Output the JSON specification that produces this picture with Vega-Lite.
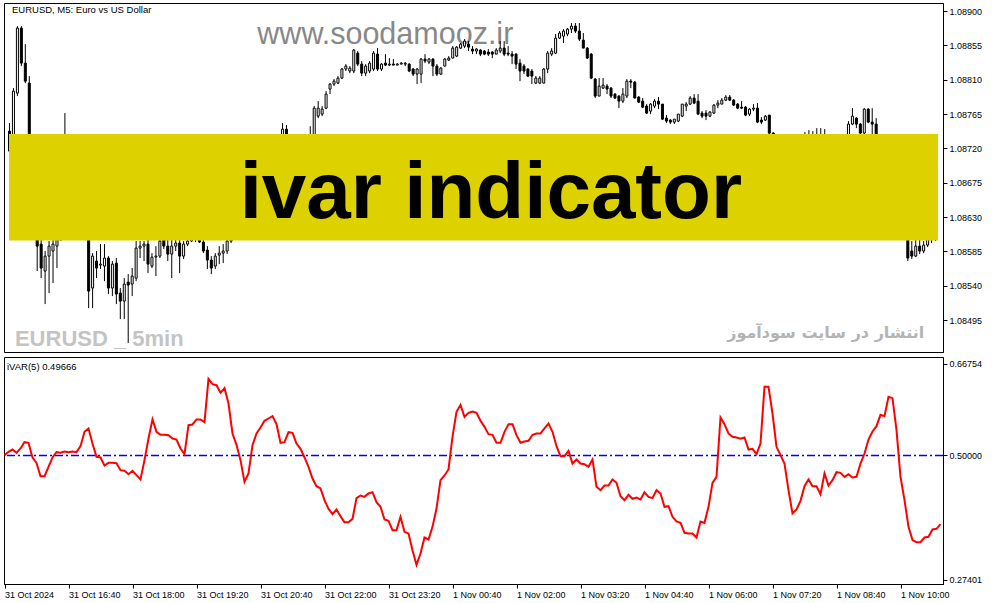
{
"$schema":"https://vega.github.io/schema/vega-lite/v6.json",
"background":"white",
"padding":{"left":2,"top":2,"right":0,"bottom":0},
"spacing":3,
"config":{"view":{"stroke":"#000000","strokeWidth":1},"axis":{"labelFont":"Liberation Sans","labelFontSize":9,"labelColor":"#000000","domainColor":"#000000","tickColor":"#000000","tickSize":4,"labelPadding":2,"grid":false,"labelFlush":false,"labelOverlap":false}},
"datasets":{
"candles":[
{"i":0,"o":1.087426,"h":1.087531,"l":1.086967,"c":1.087164},
{"i":1,"o":1.087164,"h":1.087990,"l":1.087033,"c":1.087950},
{"i":2,"o":1.087924,"h":1.088802,"l":1.087885,"c":1.088776},
{"i":3,"o":1.088776,"h":1.088802,"l":1.088278,"c":1.088317},
{"i":4,"o":1.088317,"h":1.088566,"l":1.088055,"c":1.088081},
{"i":5,"o":1.088055,"h":1.088147,"l":1.086639,"c":1.086770},
{"i":6,"o":1.086770,"h":1.086902,"l":1.086181,"c":1.086312},
{"i":7,"o":1.086312,"h":1.086509,"l":1.085592,"c":1.085919},
{"i":8,"o":1.085945,"h":1.086011,"l":1.085500,"c":1.085631},
{"i":9,"o":1.085592,"h":1.085854,"l":1.085159,"c":1.085788},
{"i":10,"o":1.085788,"h":1.085985,"l":1.085303,"c":1.085919},
{"i":11,"o":1.085854,"h":1.086011,"l":1.085434,"c":1.085945},
{"i":12,"o":1.085919,"h":1.086181,"l":1.085631,"c":1.086011},
{"i":13,"o":1.086011,"h":1.086378,"l":1.085985,"c":1.086247},
{"i":14,"o":1.086247,"h":1.087662,"l":1.086181,"c":1.086509},
{"i":15,"o":1.086509,"h":1.086639,"l":1.086181,"c":1.086312},
{"i":16,"o":1.086312,"h":1.086444,"l":1.086050,"c":1.086181},
{"i":17,"o":1.086181,"h":1.086444,"l":1.086011,"c":1.086312},
{"i":18,"o":1.086312,"h":1.086378,"l":1.086011,"c":1.086116},
{"i":19,"o":1.086116,"h":1.086247,"l":1.085998,"c":1.086181},
{"i":20,"o":1.086221,"h":1.086312,"l":1.085106,"c":1.085329},
{"i":21,"o":1.085369,"h":1.085827,"l":1.085106,"c":1.085788},
{"i":22,"o":1.085723,"h":1.085854,"l":1.085500,"c":1.085631},
{"i":23,"o":1.085670,"h":1.085945,"l":1.085618,"c":1.085683},
{"i":24,"o":1.085657,"h":1.085945,"l":1.085460,"c":1.085762},
{"i":25,"o":1.085762,"h":1.085788,"l":1.085290,"c":1.085369},
{"i":26,"o":1.085369,"h":1.085723,"l":1.085264,"c":1.085683},
{"i":27,"o":1.085696,"h":1.085762,"l":1.085159,"c":1.085290},
{"i":28,"o":1.085303,"h":1.085369,"l":1.084962,"c":1.085198},
{"i":29,"o":1.085198,"h":1.085500,"l":1.084962,"c":1.085421},
{"i":30,"o":1.085447,"h":1.085552,"l":1.084648,"c":1.085408},
{"i":31,"o":1.085421,"h":1.085631,"l":1.085264,"c":1.085526},
{"i":32,"o":1.085500,"h":1.085985,"l":1.085460,"c":1.085893},
{"i":33,"o":1.085893,"h":1.085985,"l":1.085762,"c":1.085919},
{"i":34,"o":1.085919,"h":1.085985,"l":1.085723,"c":1.085945},
{"i":35,"o":1.085945,"h":1.086011,"l":1.085565,"c":1.085683},
{"i":36,"o":1.085657,"h":1.085827,"l":1.085631,"c":1.085775},
{"i":37,"o":1.085775,"h":1.085919,"l":1.085526,"c":1.085788},
{"i":38,"o":1.085788,"h":1.086050,"l":1.085762,"c":1.085985},
{"i":39,"o":1.086011,"h":1.086116,"l":1.085880,"c":1.085919},
{"i":40,"o":1.085919,"h":1.086011,"l":1.085723,"c":1.085814},
{"i":41,"o":1.085814,"h":1.086011,"l":1.085500,"c":1.085919},
{"i":42,"o":1.085919,"h":1.086037,"l":1.085854,"c":1.085959},
{"i":43,"o":1.085959,"h":1.086011,"l":1.085565,"c":1.085788},
{"i":44,"o":1.085788,"h":1.085985,"l":1.085749,"c":1.085945},
{"i":45,"o":1.085945,"h":1.086090,"l":1.085919,"c":1.085985},
{"i":46,"o":1.085985,"h":1.086181,"l":1.085972,"c":1.086037},
{"i":47,"o":1.086037,"h":1.086142,"l":1.085972,"c":1.086011},
{"i":48,"o":1.086037,"h":1.086116,"l":1.085959,"c":1.085972},
{"i":49,"o":1.085972,"h":1.086011,"l":1.085827,"c":1.085854},
{"i":50,"o":1.085867,"h":1.085919,"l":1.085618,"c":1.085736},
{"i":51,"o":1.085736,"h":1.085788,"l":1.085552,"c":1.085631},
{"i":52,"o":1.085657,"h":1.085827,"l":1.085618,"c":1.085788},
{"i":53,"o":1.085801,"h":1.085919,"l":1.085683,"c":1.085827},
{"i":54,"o":1.085827,"h":1.085945,"l":1.085696,"c":1.085854},
{"i":55,"o":1.085854,"h":1.086090,"l":1.085814,"c":1.085985},
{"i":56,"o":1.085985,"h":1.086247,"l":1.085959,"c":1.086181},
{"i":57,"o":1.086181,"h":1.086378,"l":1.086116,"c":1.086312},
{"i":58,"o":1.086312,"h":1.086444,"l":1.086181,"c":1.086273},
{"i":59,"o":1.086273,"h":1.086574,"l":1.086221,"c":1.086509},
{"i":60,"o":1.086509,"h":1.086770,"l":1.086444,"c":1.086639},
{"i":61,"o":1.086639,"h":1.086744,"l":1.086509,"c":1.086574},
{"i":62,"o":1.086574,"h":1.086836,"l":1.086535,"c":1.086770},
{"i":63,"o":1.086770,"h":1.086967,"l":1.086705,"c":1.086902},
{"i":64,"o":1.086902,"h":1.087033,"l":1.086770,"c":1.086836},
{"i":65,"o":1.086836,"h":1.087098,"l":1.086797,"c":1.087033},
{"i":66,"o":1.087033,"h":1.087229,"l":1.086967,"c":1.087164},
{"i":67,"o":1.087164,"h":1.087269,"l":1.087059,"c":1.087098},
{"i":68,"o":1.087098,"h":1.087360,"l":1.087033,"c":1.087295},
{"i":69,"o":1.087295,"h":1.087531,"l":1.087164,"c":1.087452},
{"i":70,"o":1.087452,"h":1.087504,"l":1.087295,"c":1.087360},
{"i":71,"o":1.087360,"h":1.087387,"l":1.087164,"c":1.087229},
{"i":72,"o":1.087229,"h":1.087347,"l":1.087164,"c":1.087269},
{"i":73,"o":1.087269,"h":1.087360,"l":1.087190,"c":1.087295},
{"i":74,"o":1.087295,"h":1.087347,"l":1.087164,"c":1.087229},
{"i":75,"o":1.087229,"h":1.087387,"l":1.087164,"c":1.087321},
{"i":76,"o":1.087321,"h":1.087491,"l":1.087269,"c":1.087360},
{"i":77,"o":1.087360,"h":1.087754,"l":1.087321,"c":1.087727},
{"i":78,"o":1.087622,"h":1.087819,"l":1.087596,"c":1.087727},
{"i":79,"o":1.087649,"h":1.087754,"l":1.087622,"c":1.087714},
{"i":80,"o":1.087727,"h":1.087950,"l":1.087714,"c":1.087911},
{"i":81,"o":1.087977,"h":1.088055,"l":1.087911,"c":1.088042},
{"i":82,"o":1.088042,"h":1.088108,"l":1.088016,"c":1.088081},
{"i":83,"o":1.088055,"h":1.088147,"l":1.088042,"c":1.088121},
{"i":84,"o":1.088121,"h":1.088252,"l":1.088108,"c":1.088239},
{"i":85,"o":1.088239,"h":1.088304,"l":1.088213,"c":1.088278},
{"i":86,"o":1.088213,"h":1.088278,"l":1.088186,"c":1.088252},
{"i":87,"o":1.088213,"h":1.088501,"l":1.088186,"c":1.088488},
{"i":88,"o":1.088448,"h":1.088475,"l":1.088278,"c":1.088304},
{"i":89,"o":1.088304,"h":1.088344,"l":1.088147,"c":1.088186},
{"i":90,"o":1.088186,"h":1.088304,"l":1.088147,"c":1.088278},
{"i":91,"o":1.088213,"h":1.088344,"l":1.088186,"c":1.088317},
{"i":92,"o":1.088239,"h":1.088475,"l":1.088213,"c":1.088448},
{"i":93,"o":1.088435,"h":1.088514,"l":1.088213,"c":1.088239},
{"i":94,"o":1.088239,"h":1.088317,"l":1.088213,"c":1.088304},
{"i":95,"o":1.088317,"h":1.088435,"l":1.088278,"c":1.088291},
{"i":96,"o":1.088291,"h":1.088383,"l":1.088278,"c":1.088304},
{"i":97,"o":1.088304,"h":1.088370,"l":1.088291,"c":1.088291},
{"i":98,"o":1.088291,"h":1.088317,"l":1.088291,"c":1.088304},
{"i":99,"o":1.088304,"h":1.088331,"l":1.088304,"c":1.088317},
{"i":100,"o":1.088304,"h":1.088331,"l":1.088278,"c":1.088317},
{"i":101,"o":1.088304,"h":1.088317,"l":1.088199,"c":1.088213},
{"i":102,"o":1.088239,"h":1.088252,"l":1.088147,"c":1.088173},
{"i":103,"o":1.088173,"h":1.088252,"l":1.088042,"c":1.088239},
{"i":104,"o":1.088173,"h":1.088383,"l":1.088055,"c":1.088370},
{"i":105,"o":1.088370,"h":1.088435,"l":1.088317,"c":1.088344},
{"i":106,"o":1.088331,"h":1.088383,"l":1.088304,"c":1.088370},
{"i":107,"o":1.088370,"h":1.088383,"l":1.088147,"c":1.088278},
{"i":108,"o":1.088278,"h":1.088304,"l":1.088147,"c":1.088173},
{"i":109,"o":1.088173,"h":1.088265,"l":1.088160,"c":1.088252},
{"i":110,"o":1.088278,"h":1.088383,"l":1.088278,"c":1.088370},
{"i":111,"o":1.088357,"h":1.088409,"l":1.088344,"c":1.088383},
{"i":112,"o":1.088383,"h":1.088540,"l":1.088383,"c":1.088514},
{"i":113,"o":1.088409,"h":1.088540,"l":1.088396,"c":1.088527},
{"i":114,"o":1.088514,"h":1.088580,"l":1.088501,"c":1.088566},
{"i":115,"o":1.088540,"h":1.088632,"l":1.088514,"c":1.088606},
{"i":116,"o":1.088566,"h":1.088606,"l":1.088475,"c":1.088527},
{"i":117,"o":1.088501,"h":1.088540,"l":1.088435,"c":1.088475},
{"i":118,"o":1.088475,"h":1.088514,"l":1.088435,"c":1.088501},
{"i":119,"o":1.088488,"h":1.088501,"l":1.088409,"c":1.088435},
{"i":120,"o":1.088475,"h":1.088488,"l":1.088422,"c":1.088435},
{"i":121,"o":1.088462,"h":1.088501,"l":1.088409,"c":1.088435},
{"i":122,"o":1.088462,"h":1.088475,"l":1.088383,"c":1.088435},
{"i":123,"o":1.088435,"h":1.088514,"l":1.088435,"c":1.088488},
{"i":124,"o":1.088475,"h":1.088606,"l":1.088448,"c":1.088514},
{"i":125,"o":1.088514,"h":1.088606,"l":1.088409,"c":1.088435},
{"i":126,"o":1.088448,"h":1.088540,"l":1.088409,"c":1.088435},
{"i":127,"o":1.088435,"h":1.088475,"l":1.088304,"c":1.088409},
{"i":128,"o":1.088435,"h":1.088448,"l":1.088239,"c":1.088304},
{"i":129,"o":1.088317,"h":1.088370,"l":1.088081,"c":1.088213},
{"i":130,"o":1.088278,"h":1.088304,"l":1.088173,"c":1.088213},
{"i":131,"o":1.088239,"h":1.088252,"l":1.088134,"c":1.088147},
{"i":132,"o":1.088213,"h":1.088239,"l":1.088042,"c":1.088147},
{"i":133,"o":1.088055,"h":1.088147,"l":1.088042,"c":1.088121},
{"i":134,"o":1.088055,"h":1.088147,"l":1.088042,"c":1.088121},
{"i":135,"o":1.088055,"h":1.088252,"l":1.088055,"c":1.088239},
{"i":136,"o":1.088239,"h":1.088475,"l":1.088186,"c":1.088448},
{"i":137,"o":1.088435,"h":1.088514,"l":1.088409,"c":1.088475},
{"i":138,"o":1.088448,"h":1.088698,"l":1.088435,"c":1.088645},
{"i":139,"o":1.088645,"h":1.088737,"l":1.088632,"c":1.088711},
{"i":140,"o":1.088671,"h":1.088763,"l":1.088580,"c":1.088737},
{"i":141,"o":1.088698,"h":1.088776,"l":1.088671,"c":1.088763},
{"i":142,"o":1.088763,"h":1.088842,"l":1.088711,"c":1.088802},
{"i":143,"o":1.088802,"h":1.088842,"l":1.088711,"c":1.088737},
{"i":144,"o":1.088737,"h":1.088842,"l":1.088606,"c":1.088632},
{"i":145,"o":1.088619,"h":1.088711,"l":1.088514,"c":1.088514},
{"i":146,"o":1.088514,"h":1.088527,"l":1.088370,"c":1.088383},
{"i":147,"o":1.088435,"h":1.088448,"l":1.088108,"c":1.088121},
{"i":148,"o":1.088108,"h":1.088121,"l":1.087859,"c":1.087885},
{"i":149,"o":1.087885,"h":1.088121,"l":1.087885,"c":1.088016},
{"i":150,"o":1.087990,"h":1.088121,"l":1.087977,"c":1.088029},
{"i":151,"o":1.088016,"h":1.088042,"l":1.087911,"c":1.087977},
{"i":152,"o":1.087990,"h":1.088003,"l":1.087859,"c":1.087885},
{"i":153,"o":1.087911,"h":1.087924,"l":1.087846,"c":1.087859},
{"i":154,"o":1.087885,"h":1.087898,"l":1.087727,"c":1.087819},
{"i":155,"o":1.087819,"h":1.087990,"l":1.087793,"c":1.087911},
{"i":156,"o":1.087885,"h":1.088108,"l":1.087859,"c":1.088081},
{"i":157,"o":1.088081,"h":1.088108,"l":1.087990,"c":1.088068},
{"i":158,"o":1.088068,"h":1.088081,"l":1.087859,"c":1.087859},
{"i":159,"o":1.087872,"h":1.087885,"l":1.087793,"c":1.087806},
{"i":160,"o":1.087819,"h":1.087859,"l":1.087727,"c":1.087740},
{"i":161,"o":1.087754,"h":1.087780,"l":1.087649,"c":1.087662},
{"i":162,"o":1.087688,"h":1.087793,"l":1.087649,"c":1.087780},
{"i":163,"o":1.087754,"h":1.087846,"l":1.087727,"c":1.087819},
{"i":164,"o":1.087819,"h":1.087872,"l":1.087714,"c":1.087780},
{"i":165,"o":1.087780,"h":1.087780,"l":1.087570,"c":1.087583},
{"i":166,"o":1.087596,"h":1.087636,"l":1.087531,"c":1.087557},
{"i":167,"o":1.087570,"h":1.087583,"l":1.087518,"c":1.087544},
{"i":168,"o":1.087544,"h":1.087583,"l":1.087518,"c":1.087583},
{"i":169,"o":1.087557,"h":1.087649,"l":1.087544,"c":1.087649},
{"i":170,"o":1.087622,"h":1.087780,"l":1.087609,"c":1.087780},
{"i":171,"o":1.087754,"h":1.087806,"l":1.087688,"c":1.087780},
{"i":172,"o":1.087780,"h":1.087885,"l":1.087767,"c":1.087859},
{"i":173,"o":1.087859,"h":1.087911,"l":1.087780,"c":1.087793},
{"i":174,"o":1.087819,"h":1.087911,"l":1.087636,"c":1.087649},
{"i":175,"o":1.087662,"h":1.087688,"l":1.087596,"c":1.087622},
{"i":176,"o":1.087662,"h":1.087701,"l":1.087570,"c":1.087622},
{"i":177,"o":1.087622,"h":1.087688,"l":1.087609,"c":1.087675},
{"i":178,"o":1.087662,"h":1.087780,"l":1.087649,"c":1.087767},
{"i":179,"o":1.087767,"h":1.087832,"l":1.087727,"c":1.087793},
{"i":180,"o":1.087780,"h":1.087859,"l":1.087780,"c":1.087832},
{"i":181,"o":1.087832,"h":1.087898,"l":1.087819,"c":1.087872},
{"i":182,"o":1.087872,"h":1.087898,"l":1.087819,"c":1.087832},
{"i":183,"o":1.087832,"h":1.087846,"l":1.087754,"c":1.087767},
{"i":184,"o":1.087780,"h":1.087793,"l":1.087714,"c":1.087727},
{"i":185,"o":1.087740,"h":1.087819,"l":1.087714,"c":1.087727},
{"i":186,"o":1.087740,"h":1.087754,"l":1.087622,"c":1.087636},
{"i":187,"o":1.087649,"h":1.087727,"l":1.087622,"c":1.087714},
{"i":188,"o":1.087714,"h":1.087780,"l":1.087688,"c":1.087727},
{"i":189,"o":1.087727,"h":1.087793,"l":1.087531,"c":1.087544},
{"i":190,"o":1.087570,"h":1.087609,"l":1.087518,"c":1.087544},
{"i":191,"o":1.087570,"h":1.087636,"l":1.087557,"c":1.087622},
{"i":192,"o":1.087636,"h":1.087636,"l":1.087360,"c":1.087400},
{"i":193,"o":1.087400,"h":1.087413,"l":1.087164,"c":1.087295},
{"i":194,"o":1.087295,"h":1.087347,"l":1.087033,"c":1.087098},
{"i":195,"o":1.087098,"h":1.087295,"l":1.087006,"c":1.087164},
{"i":196,"o":1.087164,"h":1.087229,"l":1.086928,"c":1.087033},
{"i":197,"o":1.087033,"h":1.087216,"l":1.086967,"c":1.087137},
{"i":198,"o":1.087137,"h":1.087269,"l":1.087059,"c":1.087190},
{"i":199,"o":1.087190,"h":1.087295,"l":1.087033,"c":1.087098},
{"i":200,"o":1.087098,"h":1.087321,"l":1.087059,"c":1.087229},
{"i":201,"o":1.087229,"h":1.087413,"l":1.087137,"c":1.087203},
{"i":202,"o":1.087203,"h":1.087439,"l":1.087164,"c":1.087269},
{"i":203,"o":1.087269,"h":1.087426,"l":1.087164,"c":1.087229},
{"i":204,"o":1.087229,"h":1.087465,"l":1.087190,"c":1.087295},
{"i":205,"o":1.087295,"h":1.087465,"l":1.087190,"c":1.087255},
{"i":206,"o":1.087255,"h":1.087452,"l":1.087203,"c":1.087295},
{"i":207,"o":1.087295,"h":1.087360,"l":1.087137,"c":1.087190},
{"i":208,"o":1.087190,"h":1.087321,"l":1.087098,"c":1.087229},
{"i":209,"o":1.087229,"h":1.087295,"l":1.087098,"c":1.087164},
{"i":210,"o":1.087164,"h":1.087334,"l":1.087137,"c":1.087255},
{"i":211,"o":1.087255,"h":1.087360,"l":1.087216,"c":1.087321},
{"i":212,"o":1.087321,"h":1.087557,"l":1.087295,"c":1.087518},
{"i":213,"o":1.087518,"h":1.087727,"l":1.087504,"c":1.087622},
{"i":214,"o":1.087596,"h":1.087609,"l":1.087465,"c":1.087518},
{"i":215,"o":1.087518,"h":1.087531,"l":1.087387,"c":1.087400},
{"i":216,"o":1.087400,"h":1.087727,"l":1.087387,"c":1.087714},
{"i":217,"o":1.087714,"h":1.087727,"l":1.087531,"c":1.087544},
{"i":218,"o":1.087544,"h":1.087727,"l":1.087360,"c":1.087518},
{"i":219,"o":1.087518,"h":1.087596,"l":1.087229,"c":1.087295},
{"i":220,"o":1.087295,"h":1.087360,"l":1.087098,"c":1.087164},
{"i":221,"o":1.087164,"h":1.087229,"l":1.086967,"c":1.087033},
{"i":222,"o":1.087033,"h":1.087098,"l":1.086770,"c":1.086836},
{"i":223,"o":1.086836,"h":1.086902,"l":1.086574,"c":1.086639},
{"i":224,"o":1.086639,"h":1.086705,"l":1.086378,"c":1.086444},
{"i":225,"o":1.086444,"h":1.086509,"l":1.086221,"c":1.086312},
{"i":226,"o":1.086312,"h":1.086378,"l":1.086050,"c":1.086142},
{"i":227,"o":1.086142,"h":1.086181,"l":1.085723,"c":1.085762},
{"i":228,"o":1.085854,"h":1.085985,"l":1.085749,"c":1.085788},
{"i":229,"o":1.085788,"h":1.086011,"l":1.085775,"c":1.085919},
{"i":230,"o":1.085919,"h":1.086011,"l":1.085814,"c":1.085854},
{"i":231,"o":1.085854,"h":1.085985,"l":1.085827,"c":1.085932},
{"i":232,"o":1.085932,"h":1.086050,"l":1.085906,"c":1.086011},
{"i":233,"o":1.086011,"h":1.086142,"l":1.085959,"c":1.086090},
{"i":234,"o":1.086090,"h":1.086142,"l":1.085985,"c":1.086050}
],
"ivar":[
{"i":0,"v":0.5006},{"i":1,"v":0.5067},{"i":2,"v":0.5109},{"i":3,"v":0.5049},{"i":4,"v":0.5128},{"i":5,"v":0.5243},{"i":6,"v":0.5231},{"i":7,"v":0.4964},{"i":8,"v":0.4866},{"i":9,"v":0.4623},
{"i":10,"v":0.4623},{"i":11,"v":0.4794},{"i":12,"v":0.4964},{"i":13,"v":0.5061},{"i":14,"v":0.5049},{"i":15,"v":0.5073},{"i":16,"v":0.5061},{"i":17,"v":0.5073},{"i":18,"v":0.5061},{"i":19,"v":0.5170},
{"i":20,"v":0.5431},{"i":21,"v":0.5492},{"i":22,"v":0.5219},{"i":23,"v":0.4976},{"i":24,"v":0.4964},{"i":25,"v":0.4818},{"i":26,"v":0.4866},{"i":27,"v":0.4866},{"i":28,"v":0.4860},{"i":29,"v":0.4733},
{"i":30,"v":0.4721},{"i":31,"v":0.4660},{"i":32,"v":0.4721},{"i":33,"v":0.4642},{"i":34,"v":0.4563},{"i":35,"v":0.4915},{"i":36,"v":0.5310},{"i":37,"v":0.5656},{"i":38,"v":0.5431},{"i":39,"v":0.5377},
{"i":40,"v":0.5377},{"i":41,"v":0.5370},{"i":42,"v":0.5310},{"i":43,"v":0.5291},{"i":44,"v":0.5128},{"i":45,"v":0.5024},{"i":46,"v":0.5553},{"i":47,"v":0.5565},{"i":48,"v":0.5656},{"i":49,"v":0.5656},
{"i":50,"v":0.5607},{"i":51,"v":0.6397},{"i":52,"v":0.6300},{"i":53,"v":0.6281},{"i":54,"v":0.6142},{"i":55,"v":0.6227},{"i":56,"v":0.5947},{"i":57,"v":0.5401},{"i":58,"v":0.5194},{"i":59,"v":0.4915},
{"i":60,"v":0.4520},{"i":61,"v":0.4672},{"i":62,"v":0.5188},{"i":63,"v":0.5401},{"i":64,"v":0.5510},{"i":65,"v":0.5632},{"i":66,"v":0.5674},{"i":67,"v":0.5717},{"i":68,"v":0.5571},{"i":69,"v":0.5231},
{"i":70,"v":0.5243},{"i":71,"v":0.5425},{"i":72,"v":0.5413},{"i":73,"v":0.5219},{"i":74,"v":0.5121},{"i":75,"v":0.4964},{"i":76,"v":0.4794},{"i":77,"v":0.4581},{"i":78,"v":0.4441},{"i":79,"v":0.4399},
{"i":80,"v":0.4186},{"i":81,"v":0.4028},{"i":82,"v":0.3931},{"i":83,"v":0.4016},{"i":84,"v":0.3895},{"i":85,"v":0.3785},{"i":86,"v":0.3785},{"i":87,"v":0.3846},{"i":88,"v":0.4223},{"i":89,"v":0.4271},
{"i":90,"v":0.4247},{"i":91,"v":0.4308},{"i":92,"v":0.4332},{"i":93,"v":0.4150},{"i":94,"v":0.4065},{"i":95,"v":0.3834},{"i":96,"v":0.3810},{"i":97,"v":0.3640},{"i":98,"v":0.3640},{"i":99,"v":0.3883},
{"i":100,"v":0.3609},{"i":101,"v":0.3579},{"i":102,"v":0.3275},{"i":103,"v":0.3008},{"i":104,"v":0.3215},{"i":105,"v":0.3506},{"i":106,"v":0.3470},{"i":107,"v":0.3700},{"i":108,"v":0.4034},{"i":109,"v":0.4551},
{"i":110,"v":0.4636},{"i":111,"v":0.4745},{"i":112,"v":0.5340},{"i":113,"v":0.5796},{"i":114,"v":0.5923},{"i":115,"v":0.5704},{"i":116,"v":0.5777},{"i":117,"v":0.5802},{"i":118,"v":0.5777},{"i":119,"v":0.5632},
{"i":120,"v":0.5522},{"i":121,"v":0.5389},{"i":122,"v":0.5377},{"i":123,"v":0.5231},{"i":124,"v":0.5231},{"i":125,"v":0.5431},{"i":126,"v":0.5571},{"i":127,"v":0.5571},{"i":128,"v":0.5370},{"i":129,"v":0.5231},
{"i":130,"v":0.5255},{"i":131,"v":0.5267},{"i":132,"v":0.5377},{"i":133,"v":0.5401},{"i":134,"v":0.5401},{"i":135,"v":0.5492},{"i":136,"v":0.5583},{"i":137,"v":0.5431},{"i":138,"v":0.5170},{"i":139,"v":0.4988},
{"i":140,"v":0.4988},{"i":141,"v":0.5085},{"i":142,"v":0.4854},{"i":143,"v":0.4927},{"i":144,"v":0.4854},{"i":145,"v":0.4842},{"i":146,"v":0.4794},{"i":147,"v":0.4927},{"i":148,"v":0.4429},{"i":149,"v":0.4368},
{"i":150,"v":0.4453},{"i":151,"v":0.4453},{"i":152,"v":0.4563},{"i":153,"v":0.4502},{"i":154,"v":0.4259},{"i":155,"v":0.4186},{"i":156,"v":0.4283},{"i":157,"v":0.4211},{"i":158,"v":0.4235},{"i":159,"v":0.4198},
{"i":160,"v":0.4332},{"i":161,"v":0.4247},{"i":162,"v":0.4223},{"i":163,"v":0.4368},{"i":164,"v":0.4308},{"i":165,"v":0.4065},{"i":166,"v":0.4077},{"i":167,"v":0.3883},{"i":168,"v":0.3798},{"i":169,"v":0.3773},
{"i":170,"v":0.3591},{"i":171,"v":0.3579},{"i":172,"v":0.3579},{"i":173,"v":0.3506},{"i":174,"v":0.3798},{"i":175,"v":0.3773},{"i":176,"v":0.4065},{"i":177,"v":0.4502},{"i":178,"v":0.4611},{"i":179,"v":0.5692},
{"i":180,"v":0.5571},{"i":181,"v":0.5401},{"i":182,"v":0.5340},{"i":183,"v":0.5328},{"i":184,"v":0.5304},{"i":185,"v":0.5328},{"i":186,"v":0.5109},{"i":187,"v":0.5121},{"i":188,"v":0.5024},{"i":189,"v":0.5219},
{"i":190,"v":0.6251},{"i":191,"v":0.6251},{"i":192,"v":0.5765},{"i":193,"v":0.5158},{"i":194,"v":0.5006},{"i":195,"v":0.4854},{"i":196,"v":0.4368},{"i":197,"v":0.3943},{"i":198,"v":0.4016},{"i":199,"v":0.4174},
{"i":200,"v":0.4441},{"i":201,"v":0.4563},{"i":202,"v":0.4441},{"i":203,"v":0.4441},{"i":204,"v":0.4296},{"i":205,"v":0.4672},{"i":206,"v":0.4453},{"i":207,"v":0.4551},{"i":208,"v":0.4696},{"i":209,"v":0.4684},
{"i":210,"v":0.4611},{"i":211,"v":0.4660},{"i":212,"v":0.4599},{"i":213,"v":0.4611},{"i":214,"v":0.4854},{"i":215,"v":0.5036},{"i":216,"v":0.5291},{"i":217,"v":0.5437},{"i":218,"v":0.5534},{"i":219,"v":0.5741},
{"i":220,"v":0.5717},{"i":221,"v":0.6069},{"i":222,"v":0.6045},{"i":223,"v":0.5462},{"i":224,"v":0.4611},{"i":225,"v":0.4186},{"i":226,"v":0.3700},{"i":227,"v":0.3458},{"i":228,"v":0.3421},{"i":229,"v":0.3421},
{"i":230,"v":0.3506},{"i":231,"v":0.3518},{"i":232,"v":0.3652},{"i":233,"v":0.3664},{"i":234,"v":0.3749}
]
},
"vconcat":[
{
"width":939,"height":349,
"layer":[
{"data":{"values":[{}]},"mark":{"type":"text","font":"Liberation Sans","fontSize":30.5,"color":"#888888","align":"left","baseline":"alphabetic"},
 "encoding":{"x":{"datum":62.625,"type":"quantitative","scale":{"domain":[-0.125,234.625],"nice":false,"zero":false},"axis":null},
 "y":{"datum":1.088566,"type":"quantitative","scale":{"domain":[1.084531,1.089105],"nice":false,"zero":false},"axis":{"orient":"right","title":null,"values":[1.08495,1.0854,1.08585,1.0863,1.08675,1.0872,1.08765,1.0881,1.08855,1.089],"format":".5f"}},
 "text":{"value":"www.soodamooz.ir"}}},
{"data":{"values":[{}]},"mark":{"type":"text","font":"Liberation Sans","fontWeight":"bold","fontSize":22,"color":"#C4C4C4","align":"left","baseline":"alphabetic"},
 "encoding":{"x":{"datum":1.375,"type":"quantitative","scale":{"domain":[-0.125,234.625],"nice":false,"zero":false},"axis":null},
 "y":{"datum":1.084608,"type":"quantitative","scale":{"domain":[1.084531,1.089105],"nice":false,"zero":false},"axis":{"orient":"right","title":null,"values":[1.08495,1.0854,1.08585,1.0863,1.08675,1.0872,1.08765,1.0881,1.08855,1.089],"format":".5f"}},
 "text":{"value":"EURUSD _ 5min"}}},
{"data":{"values":[{}]},"mark":{"type":"text","font":"DejaVu Sans","fontWeight":"bold","fontSize":16,"color":"#B4B4B4","align":"right","baseline":"alphabetic"},
 "encoding":{"x":{"datum":231.125,"type":"quantitative","scale":{"domain":[-0.125,234.625],"nice":false,"zero":false},"axis":null},
 "y":{"datum":1.084713,"type":"quantitative","scale":{"domain":[1.084531,1.089105],"nice":false,"zero":false},"axis":{"orient":"right","title":null,"values":[1.08495,1.0854,1.08585,1.0863,1.08675,1.0872,1.08765,1.0881,1.08855,1.089],"format":".5f"}},
 "text":{"value":"انتشار در سایت سودآموز"}}},
{"data":{"name":"candles"},"mark":{"type":"rule","color":"#000000","strokeWidth":1,"clip":true},
 "encoding":{"x":{"field":"i","type":"quantitative","scale":{"domain":[-0.125,234.625],"nice":false,"zero":false},"axis":null},
 "y":{"field":"l","type":"quantitative","scale":{"domain":[1.084531,1.089105],"nice":false,"zero":false},"axis":{"orient":"right","title":null,"values":[1.08495,1.0854,1.08585,1.0863,1.08675,1.0872,1.08765,1.0881,1.08855,1.089],"format":".5f"}},
 "y2":{"field":"h"}}},
{"data":{"name":"candles"},"mark":{"type":"bar","size":2,"stroke":"#000000","strokeWidth":1,"clip":true},
 "encoding":{"x":{"field":"i","type":"quantitative","scale":{"domain":[-0.125,234.625],"nice":false,"zero":false},"axis":null},
 "y":{"field":"o","type":"quantitative","scale":{"domain":[1.084531,1.089105],"nice":false,"zero":false},"axis":{"orient":"right","title":null,"values":[1.08495,1.0854,1.08585,1.0863,1.08675,1.0872,1.08765,1.0881,1.08855,1.089],"format":".5f"}},
 "y2":{"field":"c"},
 "fill":{"condition":{"test":"datum.c > datum.o","value":"#FFFFFF"},"value":"#000000"}}},
{"data":{"values":[{}]},"mark":{"type":"rect","color":"#DDD100"},
 "encoding":{"x":{"datum":-0.125,"type":"quantitative","scale":{"domain":[-0.125,234.625],"nice":false,"zero":false},"axis":null},"x2":{"datum":234.625},
 "y":{"datum":1.087387,"type":"quantitative","scale":{"domain":[1.084531,1.089105],"nice":false,"zero":false},"axis":{"orient":"right","title":null,"values":[1.08495,1.0854,1.08585,1.0863,1.08675,1.0872,1.08765,1.0881,1.08855,1.089],"format":".5f"}},"y2":{"datum":1.085991}}},
{"data":{"values":[{}]},"mark":{"type":"text","font":"Liberation Sans","fontWeight":"bold","fontSize":80,"color":"#000000","align":"center","baseline":"alphabetic"},
 "encoding":{"x":{"datum":121.625,"type":"quantitative","scale":{"domain":[-0.125,234.625],"nice":false,"zero":false},"axis":null},
 "y":{"datum":1.086286,"type":"quantitative","scale":{"domain":[1.084531,1.089105],"nice":false,"zero":false},"axis":{"orient":"right","title":null,"values":[1.08495,1.0854,1.08585,1.0863,1.08675,1.0872,1.08765,1.0881,1.08855,1.089],"format":".5f"}},
 "text":{"value":"ivar indicator"}}},
{"data":{"values":[{}]},"mark":{"type":"text","font":"Liberation Sans","fontSize":9.5,"color":"#000000","align":"left","baseline":"middle"},
 "encoding":{"x":{"datum":0.625,"type":"quantitative","scale":{"domain":[-0.125,234.625],"nice":false,"zero":false},"axis":null},
 "y":{"datum":1.089012,"type":"quantitative","scale":{"domain":[1.084531,1.089105],"nice":false,"zero":false},"axis":{"orient":"right","title":null,"values":[1.08495,1.0854,1.08585,1.0863,1.08675,1.0872,1.08765,1.0881,1.08855,1.089],"format":".5f"}},
 "text":{"value":"EURUSD, M5:  Euro vs US Dollar"}}}
]
},
{
"width":939,"height":227,
"layer":[
{"data":{"values":[{}]},"mark":{"type":"rule","color":"#0000FF","strokeWidth":1.4,"strokeDash":[8,3,2,3]},
 "encoding":{"y":{"datum":0.5,"type":"quantitative","scale":{"domain":[0.265894,0.679448],"nice":false,"zero":false},
   "axis":{"orient":"right","title":null,"values":[0.27401,0.5,0.66754],"format":".5f"}}}},
{"data":{"name":"ivar"},"mark":{"type":"line","color":"#FF0000","strokeWidth":2,"clip":true},
 "encoding":{"x":{"field":"i","type":"quantitative","scale":{"domain":[-0.125,234.625],"nice":false,"zero":false},
   "axis":{"orient":"bottom","title":null,"values":[0,16,32,48,64,80,96,112,128,144,160,176,192,208,224],"labelAlign":"left","labelExpr":"['31 Oct 2024','31 Oct 16:40','31 Oct 18:00','31 Oct 19:20','31 Oct 20:40','31 Oct 22:00','31 Oct 23:20','1 Nov 00:40','1 Nov 02:00','1 Nov 03:20','1 Nov 04:40','1 Nov 06:00','1 Nov 07:20','1 Nov 08:40','1 Nov 10:00'][round(datum.value/16)]"}},
 "y":{"field":"v","type":"quantitative","scale":{"domain":[0.265894,0.679448],"nice":false,"zero":false},"axis":{"orient":"right","title":null,"values":[0.27401,0.5,0.66754],"format":".5f"}}}},
{"data":{"values":[{}]},"mark":{"type":"text","font":"Liberation Sans","fontSize":9.5,"color":"#000000","align":"left","baseline":"middle"},
 "encoding":{"x":{"datum":0.625,"type":"quantitative","scale":{"domain":[-0.125,234.625],"nice":false,"zero":false},
   "axis":{"orient":"bottom","title":null,"values":[0,16,32,48,64,80,96,112,128,144,160,176,192,208,224],"labelAlign":"left","labelExpr":"['31 Oct 2024','31 Oct 16:40','31 Oct 18:00','31 Oct 19:20','31 Oct 20:40','31 Oct 22:00','31 Oct 23:20','1 Nov 00:40','1 Nov 02:00','1 Nov 03:20','1 Nov 04:40','1 Nov 06:00','1 Nov 07:20','1 Nov 08:40','1 Nov 10:00'][round(datum.value/16)]"}},
 "y":{"datum":0.66032,"type":"quantitative","scale":{"domain":[0.265894,0.679448],"nice":false,"zero":false},"axis":{"orient":"right","title":null,"values":[0.27401,0.5,0.66754],"format":".5f"}},
 "text":{"value":"iVAR(5) 0.49666"}}}
]
}
]
}
